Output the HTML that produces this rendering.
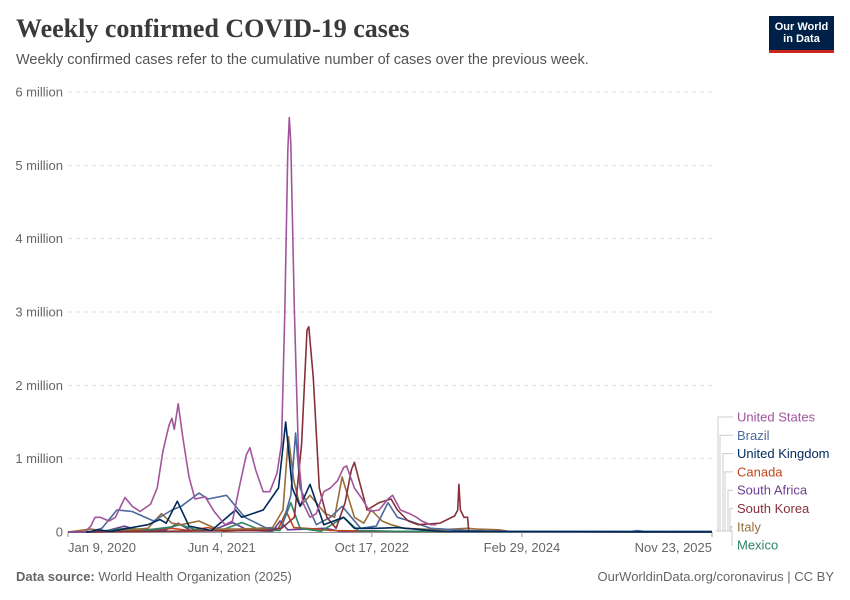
<!DOCTYPE html>
<html><head><meta charset="utf-8"><style>
body{margin:0;background:#fff;font-family:"Liberation Sans",sans-serif;}
#wrap{position:relative;width:850px;height:600px;overflow:hidden;}
.t{position:absolute;white-space:nowrap;}
</style></head><body>
<div id="wrap">
<div class="t" style="left:16px;top:14px;font-family:'Liberation Serif',serif;font-weight:bold;font-size:26px;color:#3a3a3a;">Weekly confirmed COVID-19 cases</div>
<div class="t" style="left:16px;top:52px;font-size:14.5px;color:#555;">Weekly confirmed cases refer to the cumulative number of cases over the previous week.</div>
<div style="position:absolute;left:769px;top:16px;width:65px;height:37px;background:#002147;border-bottom:3px solid #ce261e;box-sizing:border-box;color:#fff;font-size:11px;line-height:12px;text-align:center;padding-top:5px;font-weight:bold;">Our World<br>in Data</div>
<svg id="chart" width="850" height="600" style="position:absolute;left:0;top:0"></svg>
<div class="t" style="left:16px;top:569px;font-size:13px;color:#666;"><b>Data source:</b> World Health Organization (2025)</div>
<div class="t" style="right:16px;top:569px;font-size:13px;color:#666;">OurWorldinData.org/coronavirus | CC BY</div>
</div>
<script>
const yTicks=[0,1,2,3,4,5,6];
const yTickLabels=["0","1 million","2 million","3 million","4 million","5 million","6 million"];
const xTickDates=["2020-01-09","2021-06-04","2022-10-17","2024-02-29","2025-11-23"];
const xTickLabels=["Jan 9, 2020","Jun 4, 2021","Oct 17, 2022","Feb 29, 2024","Nov 23, 2025"];
const seriesNames=["United States","Brazil","United Kingdom","Canada","South Africa","South Korea","Italy","Mexico"];
const seriesColors=["#a2559c","#4c6a9c","#00295b","#c0461b","#6d3e91","#883039","#996d39","#2c8465"];
const usDates=["2020-01-09","2020-03-05","2020-03-25","2020-04-08","2020-04-25","2020-05-25","2020-06-15","2020-07-17","2020-08-10","2020-09-05","2020-10-10","2020-11-01","2020-11-20","2020-12-10","2020-12-20","2020-12-28","2021-01-10","2021-01-25","2021-02-15","2021-03-07","2021-04-10","2021-05-10","2021-06-15","2021-07-10","2021-08-01","2021-08-25","2021-09-06","2021-09-25","2021-10-20","2021-11-11","2021-12-05","2021-12-20","2021-12-31","2022-01-10","2022-01-15","2022-01-20","2022-02-01","2022-02-15","2022-03-01","2022-03-25","2022-04-15","2022-05-10","2022-06-01","2022-06-25","2022-07-15","2022-07-25","2022-08-20","2022-09-15","2022-10-10","2022-11-10","2022-12-10","2022-12-25","2023-01-20","2023-02-20","2023-03-15","2023-04-01","2023-05-01","2023-05-20"];
const usValues=[0,0,0.08,0.2,0.2,0.15,0.2,0.47,0.35,0.28,0.38,0.6,1.1,1.45,1.55,1.4,1.75,1.3,0.75,0.45,0.48,0.28,0.1,0.15,0.6,1.05,1.15,0.85,0.55,0.55,0.8,1.2,3.0,5.2,5.65,5.3,3.0,1.0,0.4,0.2,0.25,0.55,0.6,0.7,0.88,0.9,0.6,0.45,0.28,0.3,0.45,0.5,0.3,0.25,0.2,0.15,0.1,0.1];
const brDates=["2020-01-09","2020-03-20","2020-05-01","2020-06-20","2020-08-10","2020-10-20","2020-12-20","2021-01-20","2021-03-20","2021-04-20","2021-06-20","2021-08-20","2021-11-01","2021-12-20","2022-01-20","2022-02-05","2022-02-20","2022-04-15","2022-06-01","2022-07-10","2022-09-10","2022-11-01","2022-12-10","2023-01-10","2023-02-20","2023-05-01","2023-09-01","2024-01-01","2025-03-01","2025-03-20","2025-04-10","2025-11-23"];
const brValues=[0,0,0.05,0.3,0.28,0.15,0.3,0.35,0.53,0.45,0.5,0.2,0.05,0.05,0.5,1.35,0.6,0.1,0.2,0.35,0.05,0.08,0.4,0.2,0.15,0.05,0.02,0.01,0.01,0.02,0.01,0.01];
const ukDates=["2020-01-09","2020-03-20","2020-04-15","2020-06-01","2020-10-01","2020-11-10","2020-12-01","2021-01-07","2021-02-15","2021-05-01","2021-07-20","2021-08-10","2021-10-20","2021-12-10","2022-01-03","2022-01-25","2022-02-20","2022-03-25","2022-05-10","2022-07-15","2022-08-20","2022-11-01","2023-01-10","2023-06-01","2024-01-01","2025-11-23"];
const ukValues=[0,0,0.03,0.01,0.1,0.17,0.12,0.42,0.08,0.02,0.3,0.2,0.3,0.6,1.5,0.6,0.35,0.65,0.1,0.2,0.05,0.05,0.06,0.01,0.005,0.002];
const caDates=["2020-01-09","2020-04-20","2020-06-01","2020-12-20","2021-02-15","2021-04-20","2021-06-10","2021-09-20","2021-12-10","2022-01-05","2022-01-30","2022-04-15","2022-06-01","2023-01-01","2025-11-23"];
const caValues=[0,0.01,0.005,0.05,0.02,0.06,0.01,0.03,0.05,0.28,0.06,0.04,0.02,0.01,0];
const zaDates=["2020-01-09","2020-05-01","2020-07-15","2020-09-01","2020-12-01","2021-01-10","2021-02-20","2021-05-01","2021-07-10","2021-09-01","2021-11-20","2021-12-15","2022-01-10","2022-05-15","2022-07-01","2025-11-23"];
const zaValues=[0,0,0.08,0.02,0.03,0.12,0.02,0.02,0.13,0.02,0.01,0.15,0.03,0.05,0.01,0];
const krDates=["2020-01-09","2021-11-01","2021-12-20","2022-02-01","2022-02-25","2022-03-15","2022-03-21","2022-04-05","2022-04-25","2022-05-20","2022-06-20","2022-07-20","2022-08-10","2022-08-20","2022-09-05","2022-10-01","2022-11-10","2022-12-20","2023-01-10","2023-02-15","2023-03-20","2023-06-01","2023-07-20","2023-07-30","2023-08-03","2023-08-08","2023-08-20","2023-09-01","2023-09-05"];
const krValues=[0,0.02,0.05,0.2,1.2,2.75,2.8,2.1,0.6,0.2,0.05,0.4,0.85,0.95,0.7,0.3,0.4,0.45,0.3,0.15,0.1,0.12,0.22,0.3,0.65,0.3,0.2,0.2,0];
const itDates=["2020-01-09","2020-03-25","2020-05-20","2020-10-01","2020-11-15","2020-12-20","2021-01-20","2021-03-20","2021-05-20","2021-08-01","2021-11-20","2021-12-25","2022-01-12","2022-01-30","2022-02-20","2022-03-25","2022-05-15","2022-06-15","2022-07-10","2022-08-20","2022-09-20","2022-10-15","2022-11-20","2022-12-20","2023-02-01","2023-06-01","2023-09-01","2023-10-01","2023-12-15","2024-01-15","2025-11-23"];
const itValues=[0,0.04,0.005,0.05,0.25,0.12,0.1,0.15,0.04,0.04,0.06,0.3,1.3,0.7,0.35,0.5,0.25,0.2,0.75,0.2,0.12,0.3,0.15,0.1,0.05,0.03,0.05,0.04,0.03,0.01,0];
const mxDates=["2020-01-09","2020-05-01","2020-07-20","2020-10-01","2020-12-20","2021-01-15","2021-03-20","2021-06-01","2021-08-10","2021-10-15","2021-12-15","2022-01-20","2022-02-20","2022-05-01","2022-07-15","2022-09-01","2023-01-01","2025-11-23"];
const mxValues=[0,0.01,0.05,0.03,0.07,0.1,0.02,0.02,0.13,0.02,0.02,0.4,0.05,0.01,0.2,0.02,0.01,0];
const allDates=[usDates,brDates,ukDates,caDates,zaDates,krDates,itDates,mxDates];
const allValues=[usValues,brValues,ukValues,caValues,zaValues,krValues,itValues,mxValues];

const svg=document.getElementById('chart');
const NS="http://www.w3.org/2000/svg";
const X0=68,X1=712,Y0=532,Y1=92;
const d0=Date.parse("2020-01-09"),d1=Date.parse("2025-11-23");
function xs(d){return X0+(Date.parse(d)-d0)/(d1-d0)*(X1-X0);}
function ys(v){return Y0-v/6*(Y0-Y1);}
function mk(tag,attrs){const e=document.createElementNS(NS,tag);for(const k in attrs)e.setAttribute(k,attrs[k]);svg.appendChild(e);return e;}
yTicks.forEach((v,i)=>{
  if(v>0){const g=mk('line',{x1:X0,x2:X1,y1:ys(v),y2:ys(v),stroke:'#ddd','stroke-dasharray':'4,4'});
  
  }
  const t=mk('text',{x:63,y:ys(v)+4.5,'text-anchor':'end','font-size':13,fill:'#666','font-family':'Liberation Sans, sans-serif'});
  t.textContent=yTickLabels[i];
  
  
});
const ax=mk('line',{x1:X0,x2:X1,y1:Y0+0.5,y2:Y0+0.5,stroke:'#999'});


xTickDates.forEach((d,i)=>{
  const x=xs(d);
  const tk=mk('line',{x1:x,x2:x,y1:Y0,y2:Y0+5,stroke:'#999'});
  
  
  const anchor=i==0?'start':(i==xTickDates.length-1?'end':'middle');
  const t=mk('text',{x:i==0?x:x,y:552,'text-anchor':anchor,'font-size':13,fill:'#666','font-family':'Liberation Sans, sans-serif'});
  t.textContent=xTickLabels[i];
  
  
});
// draw series in reverse so US on top-ish
const order=[4,3,7,6,1,5,2,0];
order.forEach(si=>{
  const ds=allDates[si],vs=allValues[si];
  const pts=ds.map((d,j)=>xs(d).toFixed(1)+','+ys(vs[j]).toFixed(1)).join(' ');
  const p=mk('polyline',{points:pts,fill:'none',stroke:seriesColors[si],'stroke-width':1.6,'stroke-linejoin':'round'});
  
  
});
// legend
const vx=[718,720,723,725,728,730,731,732];
seriesNames.forEach((n,i)=>{
  const ly=417+i*18.3;
  const c=mk('polyline',{points:`716,531 ${vx[i]},531 ${vx[i]},${ly} 733,${ly}`,fill:'none',stroke:'#ccc','stroke-width':1});
  
  
  const t=mk('text',{x:737,y:ly+4.5,'font-size':13,fill:seriesColors[i],'font-family':'Liberation Sans, sans-serif'});
  t.textContent=n;
  
  
});
</script>
</body></html>
